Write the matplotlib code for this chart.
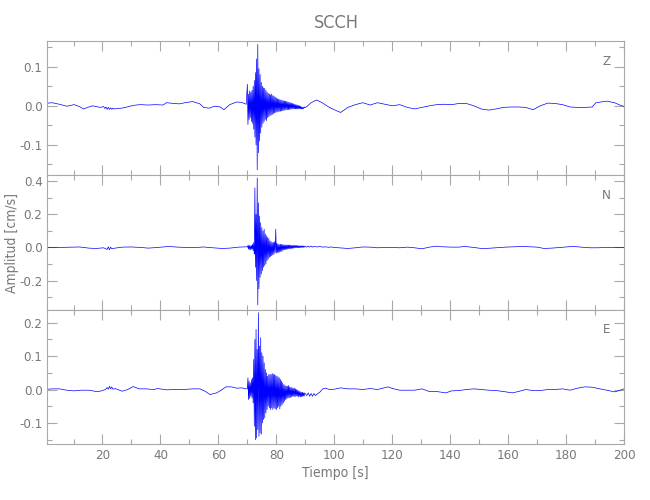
import numpy as np
import matplotlib
matplotlib.use("Agg")
import matplotlib.pyplot as plt
from matplotlib.ticker import MultipleLocator, FormatStrFormatter

plt.rcParams['font.family'] = ['DejaVu Sans']
plt.rcParams['font.stretch'] = 'condensed'
plt.rcParams['axes.unicode_minus'] = False

# Station / components
STATION = 'SCCH'
COMPONENTS = ['Z', 'N', 'E']

# burst section is sampled regularly
BURST_T0 = 70.0
BURST_DT = 0.2

# ---------------- Z ----------------
z_t_pre = [0, 2.6, 5.1, 7.7, 10.2, 12.1, 13.4, 15.3, 16.6, 19.2,
           20.4, 20.8, 21.2, 21.6, 22.0, 22.4, 22.8, 23.2, 23.6, 24.0,
           25.5, 27.5, 29.4, 31.5, 33.2, 35.8, 38.3, 40.9, 42.1, 44.7,
           46.5, 48.5, 51.1, 53.6, 54.9, 56.8, 58.7, 60.7, 61.9, 63.9,
           66.4, 68.3, 69.6]
z_v_pre = [0.006, 0.008, 0.004, -0.001, 0.003, -0.002, -0.008, -0.003, 0.000, -0.004,
           -0.002, -0.007, -0.003, -0.009, -0.004, -0.009, -0.005, -0.009, -0.006, -0.008,
           -0.007, -0.005, -0.001, 0.002, 0.003, 0.002, 0.003, 0.002, 0.008, 0.006,
           0.005, 0.008, 0.011, 0.005, -0.004, -0.006, -0.001, -0.003, -0.010, 0.003,
           0.010, 0.008, 0.004]
z_burst = [0.055, -0.048, 0.030, -0.035, 0.038, -0.030, 0.035, -0.040, 0.040, -0.045,
           0.050, -0.060, 0.065, -0.080, 0.085, -0.100, 0.120, -0.164, 0.157, -0.120,
           0.095, -0.090, 0.080, -0.070, 0.060, -0.055, 0.050, -0.045, 0.046, -0.040,
           0.045, -0.035, 0.040, -0.038, 0.035, -0.030, 0.032, -0.028, 0.030, -0.025,
           0.028, -0.024, 0.030, -0.022, 0.026, -0.020, 0.025, -0.018, 0.022, -0.017,
           0.020, -0.016, 0.018, -0.015, 0.017, -0.014, 0.016, -0.014, 0.015, -0.013,
           0.014, -0.012, 0.013, -0.012, 0.012, -0.011, 0.012, -0.010, 0.011, -0.010,
           0.010, -0.010, 0.009, -0.009, 0.008, -0.009, 0.007, -0.008, 0.006, -0.008,
           0.005, -0.008, 0.004, -0.008, 0.003, -0.008, 0.002, -0.008, 0.001, -0.008,
           0.000, -0.008, -0.001, -0.008, -0.003, -0.008, -0.004, -0.007, -0.003, -0.005]
z_t_post = [90.5, 92.0, 93.9, 95.8, 98.3, 100.9, 102.2, 104.7, 107.3, 109.8,
            112.4, 114.9, 117.5, 120.1, 122.6, 125.2, 127.7, 130.3, 132.8, 135.4,
            137.9, 140.5, 143.0, 145.6, 148.2, 150.7, 153.3, 155.8, 158.4, 160.9,
            163.5, 166.1, 168.6, 171.1, 173.7, 176.2, 178.8, 181.4, 183.9, 186.5,
            189.0, 190.3, 194.1, 196.7, 199.2, 200.0]
z_v_post = [-0.002, 0.008, 0.015, 0.008, -0.004, -0.013, -0.017, -0.004, 0.003, 0.008,
            0.002, 0.008, 0.004, 0.000, 0.003, -0.004, -0.008, -0.004, 0.000, 0.003,
            0.004, 0.003, 0.006, 0.006, 0.000, -0.008, -0.011, -0.008, -0.004, -0.003,
            -0.003, -0.004, -0.010, 0.000, 0.007, 0.006, 0.003, -0.003, -0.004, -0.004,
            -0.003, 0.008, 0.012, 0.008, 0.000, -0.001]

# ---------------- N ----------------
n_t_pre = [0, 5.0, 10.2, 12.1, 15.3, 17.9, 20.4, 21.6, 22.0, 22.4,
           22.8, 23.2, 24.3, 26.8, 30.0, 33.2, 35.8, 39.0, 42.8, 46.0,
           49.2, 52.4, 54.9, 58.1, 61.3, 63.9, 67.0, 69.6]
n_v_pre = [0.000, 0.000, 0.002, 0.003, -0.004, -0.006, -0.002, -0.012, 0.004, -0.014,
           0.002, -0.008, -0.004, 0.002, 0.003, 0.000, -0.004, 0.000, 0.006, 0.002,
           0.000, 0.000, 0.003, -0.002, -0.006, -0.004, 0.002, 0.004]
n_burst = [0.002, 0.012, -0.010, 0.015, -0.012, 0.010, -0.015, 0.012, -0.010, 0.020,
           -0.020, 0.030, -0.040, 0.360, -0.120, 0.200, -0.200, 0.420, -0.347, 0.270,
           -0.250, 0.190, -0.180, 0.150, -0.160, 0.120, -0.140, 0.100, -0.120, 0.110,
           -0.110, 0.080, -0.100, 0.070, -0.080, 0.060, -0.070, 0.055, -0.060, 0.040,
           -0.055, 0.035, -0.050, 0.030, -0.045, 0.030, -0.040, 0.035, -0.030, 0.110,
           -0.035, 0.025, -0.030, 0.020, -0.030, 0.018, -0.028, 0.020, -0.025, 0.018,
           -0.022, 0.018, -0.015, 0.016, -0.014, 0.015, -0.012, 0.016, -0.012, 0.014,
           -0.010, 0.014, -0.008, 0.015, -0.008, 0.014, -0.006, 0.012, -0.005, 0.014,
           -0.004, 0.012, -0.003, 0.012, -0.002, 0.012, -0.002, 0.011, -0.002, 0.010,
           -0.001, 0.010, 0.000, 0.010, 0.000, 0.009, 0.000, 0.009, 0.001, 0.008]
n_t_post = [90.5, 91.0, 91.5, 92.0, 92.5, 93.0, 94.0, 95.0, 96.0, 97.0,
            98.0, 99.0, 100.0, 102.2, 104.7, 107.3, 109.8, 112.4, 114.9, 117.5,
            120.1, 122.6, 125.2, 127.7, 130.3, 132.8, 135.4, 137.3, 140.5, 143.0,
            145.0, 148.2, 150.7, 153.3, 155.8, 159.0, 162.0, 165.0, 168.0, 170.0,
            172.4, 175.0, 178.1, 180.6, 182.6, 185.2, 188.3, 190.9, 194.1, 197.3,
            200.0]
n_v_post = [0.002, 0.008, 0.002, 0.008, 0.002, 0.007, 0.003, 0.006, 0.002, 0.004,
            0.001, 0.003, 0.000, -0.003, -0.006, -0.002, 0.003, 0.002, -0.002, 0.000,
            0.000, -0.002, 0.002, -0.002, -0.008, 0.002, 0.008, 0.004, 0.002, 0.002,
            0.006, 0.000, -0.006, -0.005, -0.002, 0.002, 0.004, 0.006, 0.004, 0.002,
            -0.006, -0.004, 0.000, 0.004, 0.006, 0.002, -0.002, -0.002, 0.000, 0.000,
            0.000]

# ---------------- E ----------------
e_t_pre = [0, 2.6, 5.1, 7.7, 10.2, 12.8, 15.3, 17.9, 19.2, 21.0,
           21.6, 22.0, 22.4, 22.8, 23.2, 23.6, 24.3, 26.8, 28.7, 30.6,
           32.6, 35.1, 37.7, 39.0, 42.1, 44.7, 47.9, 51.1, 53.6, 55.6,
           57.1, 59.4, 61.3, 62.6, 64.5, 66.4, 68.1, 69.6]
e_v_pre = [0.000, 0.002, 0.002, -0.002, -0.004, -0.002, -0.002, -0.006, -0.005, 0.000,
           0.006, 0.001, 0.010, 0.002, 0.008, 0.001, 0.003, -0.005, 0.000, 0.009,
           0.002, 0.002, 0.000, 0.003, -0.001, 0.000, 0.000, 0.002, 0.002, -0.006,
           -0.015, -0.010, 0.000, 0.008, 0.008, 0.004, 0.005, 0.002]
e_burst = [0.002, 0.035, -0.030, 0.025, -0.027, 0.020, -0.020, 0.030, -0.025, 0.035,
           -0.040, 0.090, -0.110, 0.150, -0.150, 0.180, -0.145, 0.120, -0.120, 0.230,
           -0.140, 0.130, -0.130, 0.155, -0.134, 0.110, -0.100, 0.100, -0.090, 0.080,
           -0.085, 0.060, -0.070, 0.050, -0.060, 0.040, -0.050, 0.045, -0.055, 0.045,
           -0.060, 0.045, -0.055, 0.048, -0.060, 0.045, -0.055, 0.045, -0.058, 0.042,
           -0.060, 0.040, -0.055, 0.038, -0.050, 0.035, -0.058, 0.030, -0.050, 0.025,
           -0.045, 0.020, -0.040, 0.015, -0.035, 0.012, -0.030, 0.010, -0.028, 0.010,
           -0.025, 0.012, -0.025, 0.008, -0.024, 0.006, -0.022, 0.006, -0.020, 0.004,
           -0.020, 0.004, -0.022, 0.002, -0.020, 0.000, -0.020, -0.002, -0.022, -0.004,
           -0.020, -0.006, -0.022, -0.008, -0.022, -0.008, -0.020, -0.010, -0.020, -0.010]
e_t_post = [90.5, 91.0, 91.5, 92.0, 92.5, 93.0, 93.5, 94.0, 95.0, 96.0,
            97.0, 98.0, 99.5, 102.2, 104.7, 107.3, 109.8, 112.4, 114.9, 118.5,
            120.1, 122.6, 125.2, 127.7, 130.3, 132.8, 135.4, 138.5, 140.5, 143.0,
            145.6, 148.2, 150.7, 153.3, 155.8, 158.4, 161.5, 163.5, 166.1, 168.6,
            171.1, 173.7, 176.2, 178.8, 181.4, 183.9, 186.5, 189.0, 191.6, 194.1,
            196.7, 198.0, 200.0]
e_v_post = [-0.018, -0.010, -0.020, -0.012, -0.020, -0.012, -0.018, -0.014, -0.008, 0.002,
            0.004, 0.001, 0.000, 0.005, 0.002, 0.002, 0.000, 0.003, 0.000, 0.008,
            0.003, -0.002, -0.002, -0.002, 0.002, -0.006, -0.006, -0.010, -0.004, -0.003,
            0.000, 0.002, 0.000, -0.002, -0.003, -0.006, -0.010, -0.006, 0.000, -0.003,
            -0.003, 0.000, 0.000, 0.002, -0.002, 0.004, 0.008, 0.007, 0.002, -0.002,
            -0.007, -0.004, 0.002]

# axis limits as in the reference
y_limits = [(-0.178, 0.166), (-0.376, 0.436), (-0.163, 0.239)]
y_major = [0.1, 0.2, 0.1]
y_minor = [0.05, 0.1, 0.05]

traces = [
    (z_t_pre, z_v_pre, z_burst, z_t_post, z_v_post),
    (n_t_pre, n_v_pre, n_burst, n_t_post, n_v_post),
    (e_t_pre, e_v_pre, e_burst, e_t_post, e_v_post),
]

GREY_LINE = '#a8a8a8'
GREY_TEXT = '#787878'

fig = plt.figure(figsize=(6.5, 5), dpi=100)
axes = fig.subplots(3, 1, sharex=True)
fig.subplots_adjust(left=0.073, right=0.96, top=0.918, bottom=0.112, hspace=0)

for i, ax in enumerate(axes):
    t_pre, v_pre, burst, t_post, v_post = traces[i]
    t_burst = BURST_T0 + BURST_DT * np.arange(len(burst))
    t = np.concatenate([t_pre, t_burst, t_post])
    v = np.concatenate([v_pre, burst, v_post])
    ax.plot(t, v, color='#0000ff', linewidth=0.5)

    ax.set_xlim(1, 200)
    ax.set_ylim(*y_limits[i])
    ax.xaxis.set_major_locator(MultipleLocator(20))
    ax.xaxis.set_minor_locator(MultipleLocator(10))
    ax.yaxis.set_major_locator(MultipleLocator(y_major[i]))
    ax.yaxis.set_minor_locator(MultipleLocator(y_minor[i]))
    ax.yaxis.set_major_formatter(FormatStrFormatter('%.1f'))

    ax.tick_params(which='both', direction='in', top=True, right=True,
                   color=GREY_LINE, labelcolor=GREY_TEXT, labelsize=9.5, width=0.8)
    ax.tick_params(which='major', length=7)
    ax.tick_params(which='minor', length=3.5)
    for sp in ax.spines.values():
        sp.set_color(GREY_LINE)
        sp.set_linewidth(0.8)

    ax.text(0.969, 0.85, COMPONENTS[i], transform=ax.transAxes,
            ha='center', va='center', fontsize=9.5, color=GREY_TEXT)

axes[-1].set_xlabel('Tiempo [s]', fontsize=10, color=GREY_TEXT, labelpad=3)
fig.text(0.018, 0.514, 'Amplitud [cm/s]', rotation=90, ha='center', va='center',
         fontsize=10, color=GREY_TEXT)
fig.text(0.517, 0.955, STATION, ha='center', va='center', fontsize=13, color=GREY_TEXT)

fig.savefig('out.png', dpi=100)
